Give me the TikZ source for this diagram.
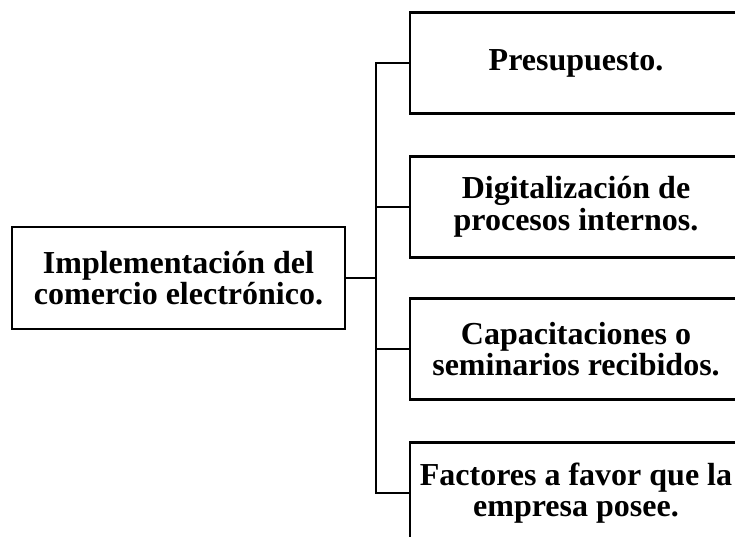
\documentclass[tikz,border=0pt]{standalone}
\usepackage{fontspec}
\setmainfont{Liberation Serif}
\begin{document}
\begin{tikzpicture}[x=1pt,y=-1pt,
  box/.style={draw, line width=2.4pt, inner sep=0pt, align=center,
    font=\bfseries\fontsize{32}{31.5}\selectfont},
  leftbox/.style={box, minimum width=333pt, minimum height=102pt},
  rightbox/.style={box, minimum width=332pt, minimum height=101pt},
  conn/.style={line width=2.4pt}]
\clip (0,0) rectangle (735,537);
\fill[white] (0,0) rectangle (735,537);
\node[leftbox] (L) at (178.5,278) {Implementación del\\comercio electrónico.};
\node[rightbox] (P) at (576,63) {Presupuesto.};
\node[rightbox] (D) at (576,207) {Digitalización de\\procesos internos.};
\node[rightbox] (C) at (576,349) {Capacitaciones o\\seminarios recibidos.};
\node[rightbox] (F) at (576,493) {Factores a favor que la\\empresa posee.};
\path (P.west) ++(-33,0) coordinate (tk);
\draw[conn] (P.west) -- (tk) |- (F.west);
\draw[conn] (D.west) -- (D.west -| tk);
\draw[conn] (C.west) -- (C.west -| tk);
\draw[conn] (L.east) -- (L.east -| tk);
\end{tikzpicture}
\end{document}
